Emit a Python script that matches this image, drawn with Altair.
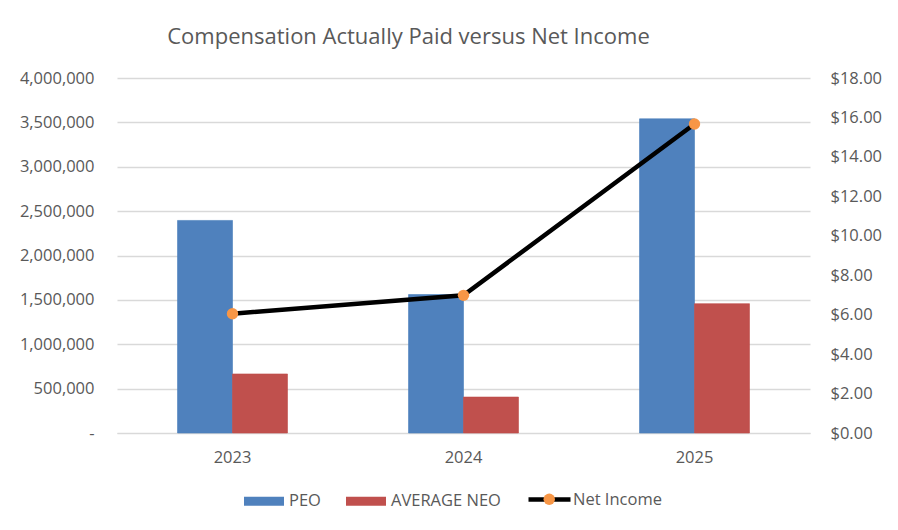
import altair as alt
import pandas as pd

years = ["2023", "2024", "2025"]
peo = [2395000, 1560000, 3540000]
avg_neo = [665000, 405000, 1457000]
net_income = [6.05, 6.98, 15.67]

series_names = ["PEO", "AVERAGE NEO"]
bar_colors = ["#4F81BD", "#C0504D"]
left_ticks = [0, 500000, 1000000, 1500000, 2000000, 2500000, 3000000, 3500000, 4000000]
right_ticks = [0, 2, 4, 6, 8, 10, 12, 14, 16, 18]

bars_df = pd.DataFrame({
    "year": years * 2,
    "series": ["PEO"] * 3 + ["AVERAGE NEO"] * 3,
    "value": peo + avg_neo,
})
line_df = pd.DataFrame({"year": years, "ni": net_income,
                        "name": ["Net Income"] * 3, "marker": ["marker"] * 3})

FONT = "Open Sans"
TXT = "#595959"

x_enc = alt.X("year:N", sort=years,
              scale=alt.Scale(paddingInner=0.524, paddingOuter=0.262),
              axis=alt.Axis(title=None, labelAngle=0, ticks=False, domain=True,
                            domainColor="#D9D9D9", labelPadding=16, grid=False))

y_right = alt.Y("ni:Q", scale=alt.Scale(domain=[0, 18], nice=False),
                axis=alt.Axis(title=None, values=right_ticks, orient="right", format="$,.2f",
                              domain=False, ticks=False, grid=False, labelPadding=20))

bars = alt.Chart(bars_df).mark_bar(strokeWidth=1, strokeOpacity=0.6).encode(
    x=x_enc,
    xOffset=alt.XOffset("series:N", sort=series_names,
                        scale=alt.Scale(paddingOuter=0, paddingInner=0)),
    y=alt.Y("value:Q", scale=alt.Scale(domain=[0, 4000000], nice=False),
            axis=alt.Axis(title=None, values=left_ticks, orient="left",
                          labelExpr="datum.value == 0 ? '-' : format(datum.value, ',')",
                          domain=False, ticks=False, grid=True, gridColor="#D9D9D9",
                          gridWidth=1.3, labelPadding=23)),
    color=alt.Color("series:N", sort=series_names,
                    scale=alt.Scale(domain=series_names, range=bar_colors),
                    legend=alt.Legend(title=None, orient="none", direction="horizontal",
                                      legendX=127, legendY=403,
                                      symbolType="M-1,-0.22H1V0.22H-1Z", symbolSize=1600,
                                      symbolStrokeWidth=0, columnPadding=25,
                                      labelOffset=5, padding=0)),
    stroke=alt.Stroke("series:N", sort=series_names,
                      scale=alt.Scale(domain=series_names, range=["#4A7EBB", "#BE4B48"]),
                      legend=None),
)

line = alt.Chart(line_df).mark_line(strokeWidth=4.5).encode(
    x=alt.X("year:N", sort=years),
    y=y_right,
    stroke=alt.Stroke("name:N", scale=alt.Scale(domain=["Net Income"], range=["#000000"]),
                      legend=alt.Legend(title=None, orient="none", legendX=409, legendY=398,
                                        symbolType="stroke", symbolSize=1764,
                                        symbolStrokeWidth=4.5, labelOffset=0, padding=0,
                                        zindex=1)),
)

points = alt.Chart(line_df).mark_circle(size=130, opacity=1).encode(
    x=alt.X("year:N", sort=years),
    y=y_right,
    fill=alt.Fill("marker:N", scale=alt.Scale(domain=["marker"], range=["#F79646"]),
                  legend=alt.Legend(title=None, orient="none", legendX=424, legendY=413,
                                    symbolType="circle", symbolSize=130,
                                    symbolStrokeWidth=0, labelExpr="''", padding=0,
                                    zindex=2)),
)

right_layer = alt.layer(line, points)

chart = alt.layer(bars, right_layer).resolve_scale(
    y="independent", color="independent", stroke="independent", fill="independent"
).properties(
    width=693, height=355,
    autosize=alt.AutoSizeParams(type="none"),
    padding={"left": 109, "top": 70, "right": 75, "bottom": 90},
    title=alt.TitleParams("Compensation Actually Paid versus Net Income",
                          font=FONT, fontSize=22, fontWeight="normal", color=TXT,
                          anchor="middle", offset=21, dx=-55),
).configure_view(stroke=None).configure_axis(
    labelFont=FONT, labelFontSize=16.5, labelColor=TXT
).configure_legend(
    labelFont=FONT, labelFontSize=16.5, labelColor=TXT
)

chart.save("out.html", embed_options={"renderer": "svg", "actions": False})
